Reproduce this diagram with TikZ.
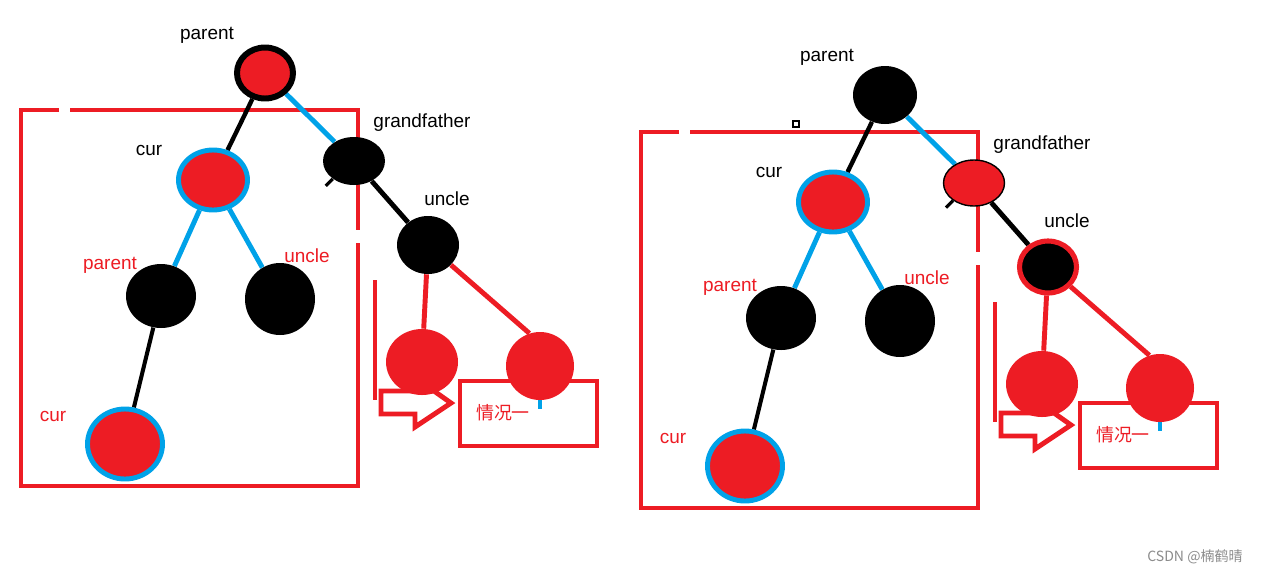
\documentclass[tikz,border=0pt]{standalone}
\usepackage{fontspec}
\setmainfont{Liberation Sans}
\newfontfamily\cjk{Noto Sans CJK SC}
\usetikzlibrary{shapes.geometric}
\definecolor{pred}{RGB}{237,28,36}
\definecolor{pblue}{RGB}{0,162,232}
\pgfdeclarelayer{background}
\pgfdeclarelayer{canvas}
\pgfsetlayers{canvas,background,main}
\tikzset{
  ell/.style 2 args={ellipse, inner sep=0pt, minimum width=#1*0.02cm, minimum height=#2*0.02cm},
  lbl/.style={font=\fontsize{10.8}{13}\selectfont, inner sep=0pt, anchor=center},
  blk/.style={draw=black, line width=2.5pt},
  blu/.style={draw=pblue, line width=2.8pt},
  rd/.style={draw=pred, line width=2.8pt},
}
\newcommand{\halfdiagram}[6]{%
\begin{scope}[shift={(#2,#3)}]
  % nodes
  \node[#4] (#1P) at (265,73) {};
  \node[#5] (#1G) at (354,161) {};
  \node[ell={69}{60}, fill=pred, draw=pblue, line width=2.8pt] (#1C) at (213,180) {};
  \node[ell={70}{64}, fill=black] (#1B) at (161,296) {};
  \node[ell={70}{72}, fill=black] (#1U) at (280,299) {};
  \node[ell={75}{70}, fill=pred, draw=pblue, line width=2.8pt] (#1C2) at (125,444) {};
  \node[#6] (#1U2) at (428,245) {};
  \node[ell={72}{66}, fill=pred] (#1L2) at (422,362) {};
  \node[ell={68}{68}, fill=pred] (#1R2) at (540,366) {};
  % labels
  \node[lbl, text=black] (#1tp) at (207,35) {parent};
  \node[lbl, text=black] (#1tc) at (149,150) {cur};
  \node[lbl, text=black] (#1tg) at (422,123) {grandfather};
  \node[lbl, text=black] (#1tu) at (447,199) {uncle};
  \node[lbl, text=pred] (#1tp2) at (110,265) {parent};
  \node[lbl, text=pred] (#1tu2) at (307,256) {uncle};
  \node[lbl, text=pred] (#1tc2) at (53,416) {cur};
  \node[lbl, text=pred, font=\cjk\fontsize{10.2}{12}\selectfont] (#1case) at (503,413) {情况一};
  \begin{pgfonlayer}{background}
    % frame
    \draw[rd] (59,110) -- (21,110) -- (21,486) -- (358,486) -- (358,243);
    \draw[rd] (70,110) -- (358,110) -- (358,230);
    % arrow
    \draw[rd, line width=2.5pt] (375,280) -- (375,400);
    \draw[rd] (381,391) -- (434,391) -- (451,403) -- (415,427) -- (415,414) -- (381,414) -- cycle;
    % case box
    \draw[rd] (460,381) rectangle (597,446);
    % edges
    \draw[blk] (#1P) -- (#1C);
    \draw[blu] (#1P) -- (#1G);
    \draw[blu] (#1C) -- (#1B);
    \draw[blu] (#1C) -- (#1U);
    \draw[blk, line width=2.3pt] (#1B) -- (#1C2);
    \draw[blk, line width=2.8pt] (#1G) -- (#1U2);
    \draw[rd] (#1U2) -- (#1L2);
    \draw[rd] (#1U2.-41) -- (#1R2.108);
    \draw[draw=pblue, line width=2pt] (#1R2.south) -- ++(0,9);
    \draw[draw=black, line width=1.8pt] (#1G.-140) -- ++(-7,7);
  \end{pgfonlayer}
\end{scope}}

\begin{document}
\begin{tikzpicture}[x=0.02cm, y=-0.02cm]
  \begin{pgfonlayer}{canvas}
    \fill[white] (0,0) rectangle (1261,576);
  \end{pgfonlayer}
  \useasboundingbox (0,0) rectangle (1261,576);
  \halfdiagram{l}{0}{0}%
    {ell={56}{51}, fill=pred, draw=black, line width=3.4pt}%
    {ell={62}{48}, fill=black}%
    {ell={62}{58}, fill=black}
  \halfdiagram{r}{620}{22}%
    {ell={64}{58}, fill=black}%
    {ell={61}{46}, fill=pred, draw=black, line width=0.8pt}%
    {ell={57}{52}, fill=black, draw=pred, line width=2.9pt}
  \node[draw=black, line width=0.6pt, minimum size=6*0.02cm, inner sep=0pt] (sq) at (796,124) {};
  \node[font=\cjk\fontsize{8}{10}\selectfont, text=black!45, inner sep=0pt] (wm) at (1195,557) {CSDN @楠鹤晴};
\end{tikzpicture}
\end{document}
